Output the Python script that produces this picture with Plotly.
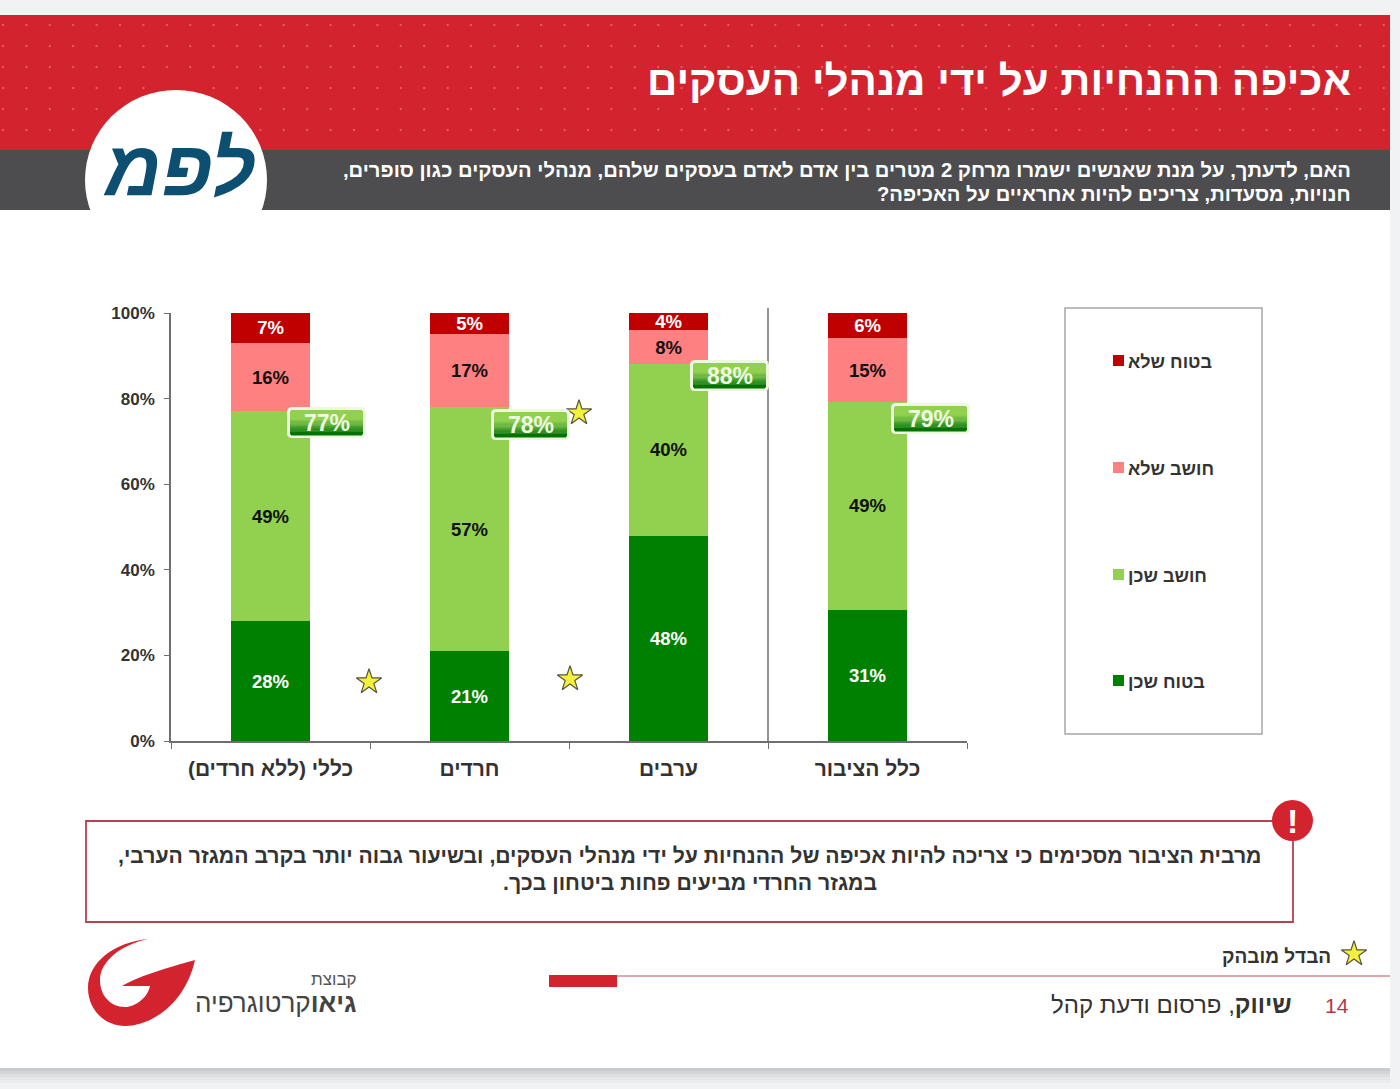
import re
import numpy as np
import plotly.graph_objects as go

W, H = 1400, 1089
FONT = "Liberation Sans"

categories = ["כללי (ללא חרדים)", "חרדים", "ערבים", "כלל הציבור"]
sure_yes = [28, 21, 48, 31]
think_yes = [49, 57, 40, 49]
think_no = [16, 17, 8, 15]
sure_no = [7, 5, 4, 6]
totals = [77, 78, 88, 79]

series_names = ["בטוח שכן", "חושב שכן", "חושב שלא", "בטוח שלא"]
series_colors = ["#008000", "#92d050", "#ff8080", "#c00000"]
label_colors = ["white", "#111111", "#111111", "white"]

RED = "#d2232f"
GREY = "#4d4d4f"


def X(px):
    return px / W


def Y(py):
    return 1 - py / H


def box(x0, y0, x1, y1, **kw):
    return dict(type="rect", xref="paper", yref="paper",
                x0=X(x0), y0=Y(y0), x1=X(x1), y1=Y(y1), **kw)


def path(d, **kw):
    # path written in page pixels, converted to paper fractions
    conv = re.sub(r"(\d+\.?\d*),(\d+\.?\d*)",
                  lambda m: f"{X(float(m[1])):.5f},{Y(float(m[2])):.5f}", d)
    return dict(type="path", xref="paper", yref="paper", path=conv, **kw)


def text(x, y, s, size, color="#333333", anchor="right", weight=400, style="normal"):
    return dict(xref="paper", yref="paper", x=X(x), y=Y(y), text=s, showarrow=False,
                xanchor=anchor, yanchor="middle", borderpad=0, borderwidth=0,
                font=dict(family=FONT, size=size, color=color, weight=weight, style=style))


fig = go.Figure()

values = [sure_yes, think_yes, think_no, sure_no]
for name, vals, col, lab in zip(series_names, values, series_colors, label_colors):
    fig.add_trace(go.Bar(
        x=categories, y=vals, name=name, width=0.4, showlegend=False,
        marker=dict(color=col, line=dict(width=0)),
        text=[f"{v}%" for v in vals], textposition="inside",
        insidetextanchor="middle", constraintext="none", textangle=0,
        textfont=dict(family=FONT, size=18.5, color=lab, weight=700),
        hoverinfo="skip",
    ))

# page-pixel axes for the dots on the banner and the stars
dx, dy = np.meshgrid(np.arange(3, 1390, 23.4), np.arange(25, 150, 21))
dx, dy = dx.ravel(), dy.ravel()
keep = ((dx - 176) / 95) ** 2 + ((dy - 178) / 93) ** 2 > 1
fig.add_trace(go.Scatter(
    x=dx[keep], y=dy[keep], mode="markers", xaxis="x2", yaxis="y2", showlegend=False,
    marker=dict(size=2.5, color="#e8545e"), hoverinfo="skip",
))
star_x = [369, 570, 579, 1354]
star_y = [682, 679, 413, 954]
fig.add_trace(go.Scatter(
    x=star_x, y=star_y, mode="markers", xaxis="x2", yaxis="y2", showlegend=False,
    marker=dict(symbol="star", size=19, color="#f5f03c", line=dict(color="#55553f", width=1.2)),
    hoverinfo="skip",
))

shapes = [
    box(0, 15, 1390, 1068, fillcolor="white", line_width=0, layer="below"),
    box(0, 15, 1390, 150, fillcolor=RED, line_width=0, layer="below"),
    box(0, 150, 1390, 210, fillcolor=GREY, line_width=0, layer="below"),
    dict(type="circle", xref="paper", yref="paper", x0=X(85), x1=X(267), y0=Y(90), y1=Y(270),
         fillcolor="white", line_width=0, layer="below"),
    # legend frame
    box(1065, 308, 1262, 734, line=dict(color="#a6a6a6", width=1.5), layer="below"),
    # divider before the whole-public bar
    dict(type="line", xref="paper", yref="paper", x0=X(768), x1=X(768), y0=Y(308), y1=Y(741),
         line=dict(color="#6f6f6f", width=1.5), layer="above"),
    # conclusion box
    box(86, 821, 1293, 922, line=dict(color="#b8404f", width=1.8), layer="below"),
    dict(type="circle", xref="paper", yref="paper", x0=X(1272), x1=X(1313), y0=Y(800), y1=Y(841),
         fillcolor=RED, line_width=0, layer="below"),
    # footer rule
    dict(type="line", xref="paper", yref="paper", x0=X(549), x1=X(1390), y0=Y(976), y1=Y(976),
         line=dict(color="#dfa9ab", width=1.8), layer="below"),
    box(549, 975, 617, 987, fillcolor=RED, line_width=0, layer="below"),
    # G logo
    path("M148,939 C115,942 88,962 88,988 C88,1010 105,1026 125,1026 "
         "C150,1026 185,1005 195,960 C178,965 140,975 122,986 L150,986 "
         "C148,997 136,1007 125,1007 C110,1007 100,995 100,980 C100,962 120,945 148,939 Z",
         fillcolor=RED, line_width=0, layer="below"),
]

# soft shadow under the page
for i, c in enumerate(["#c9cbcd", "#d3d5d7", "#dcdee0", "#e4e6e8", "#eaecee"]):
    shapes.append(box(0, 1068 + i * 3, 1390, 1071 + i * 3, fillcolor=c, line_width=0, layer="below"))

# green total tags, gradient from stacked strips
tag_left = [287, 491, 690, 891]
tag_top = [407, 409, 360, 403]
top_rgb = np.array([146, 208, 80])
bot_rgb = np.array([0, 115, 0])
for lft, tp in zip(tag_left, tag_top):
    r = 5
    rgt, bot = lft + 79, tp + 31
    shapes.append(path(
        f"M{lft + r},{tp} L{rgt - r},{tp} Q{rgt},{tp} {rgt},{tp + r} L{rgt},{bot - r} "
        f"Q{rgt},{bot} {rgt - r},{bot} L{lft + r},{bot} Q{lft},{bot} {lft},{bot - r} "
        f"L{lft},{tp + r} Q{lft},{tp} {lft + r},{tp} Z",
        fillcolor="#eef8e0", line_width=0, layer="above"))
    n = 26
    for i in range(n):
        t = max(0, (i - 9) / (n - 12))
        t = min(t, 1)
        c = top_rgb + (bot_rgb - top_rgb) * t
        inset = 4 if i in (0, n - 1) else 3
        shapes.append(box(lft + inset, tp + 3 + i * 25 / n, rgt - inset, tp + 3 + (i + 1) * 25 / n + 0.4,
                          fillcolor=f"rgb({c[0]:.0f},{c[1]:.0f},{c[2]:.0f})", line_width=0, layer="above"))

annotations = [
    text(1351, 81, "\u200fאכיפה ההנחיות על ידי מנהלי העסקים", 42, "white", weight=700),
    text(1351, 170, "\u200fהאם, לדעתך, על מנת שאנשים ישמרו מרחק 2 מטרים בין אדם לאדם בעסקים שלהם, מנהלי העסקים כגון סופרים,\u200f",
         20.2, "white", weight=700),
    text(1351, 194, "\u200fחנויות, מסעדות, צריכים להיות אחראיים על האכיפה?\u200f", 20.2, "white", weight=700),
    text(179, 168, "לפמ", 78, "#0d4f71", anchor="center", weight=700, style="italic"),
    text(690, 855, "\u200fמרבית הציבור מסכימים כי צריכה להיות אכיפה של ההנחיות על ידי מנהלי העסקים, ובשיעור גבוה יותר בקרב המגזר הערבי,\u200f",
         21.2, "#333333", anchor="center", weight=700),
    text(690, 882, "\u200fבמגזר החרדי מביעים פחות ביטחון בכך.\u200f", 21.2, "#333333", anchor="center", weight=700),
    text(1292, 821, "!", 34, "white", anchor="center", weight=700),
    text(1331, 956, "הבדל מובהק", 19, "#333333", weight=700),
    text(1349, 1005, "14", 21, "#b5374a"),
    text(1292, 1004, "\u200f<b>שיווק</b>, פרסום ודעת קהל", 24, "#333333"),
    text(357, 979, "קבוצת", 17, "#555555"),
    text(357, 1003, "<b>גיאו</b>קרטוגרפיה", 26, "#444444"),
]
for lft, tp, v in zip(tag_left, tag_top, totals):
    annotations.append(text(lft + 40, tp + 16, f"{v}%", 23, "#eefbe2", anchor="center", weight=700))

# legend drawn by hand: swatch sits right next to the label
legend_y = [682, 576, 469, 362]
for name, col, ly in zip(series_names, series_colors, legend_y):
    shapes.append(box(1113, ly - 7, 1124, ly + 4, fillcolor=col, line_width=0, layer="below"))
    annotations.append(text(1128, ly, name, 18, "#333333", anchor="left", weight=700))

fig.update_layout(
    width=W, height=H, margin=dict(l=0, r=0, t=0, b=0, autoexpand=False),
    barmode="stack", barnorm="percent", showlegend=False,
    paper_bgcolor="#f0f2f4", plot_bgcolor="rgba(0,0,0,0)",
    font=dict(family=FONT, color="#333333"),
    shapes=shapes, annotations=annotations,
    xaxis=dict(
        domain=[X(171), X(967)], anchor="y", type="category", categoryorder="array",
        categoryarray=categories, tickson="boundaries", ticks="outside", ticklen=6,
        tickcolor="#6f6f6f", showline=True, linecolor="#6f6f6f", linewidth=1.5,
        showgrid=False, automargin=False, ticklabelstandoff=8,
        tickfont=dict(family=FONT, size=21, color="#333333", weight=700),
    ),
    yaxis=dict(
        domain=[Y(741), Y(313)], anchor="x", range=[0, 100], tickvals=[0, 20, 40, 60, 80, 100],
        ticktext=["0%", "20%", "40%", "60%", "80%", "100%"], ticks="outside", ticklen=5,
        tickcolor="#6f6f6f", showline=True, linecolor="#6f6f6f", linewidth=1.5,
        showgrid=False, zeroline=False, automargin=False, ticklabelstandoff=6,
        tickfont=dict(family=FONT, size=17, color="#333333", weight=700),
    ),
    xaxis2=dict(domain=[0, 1], range=[0, W], visible=False, anchor="y2", automargin=False),
    yaxis2=dict(domain=[0, 1], range=[H, 0], visible=False, anchor="x2", automargin=False),
)

fig.write_html("out.html", config={"displayModeBar": False},
               post_script="document.body.style.margin='0';")
